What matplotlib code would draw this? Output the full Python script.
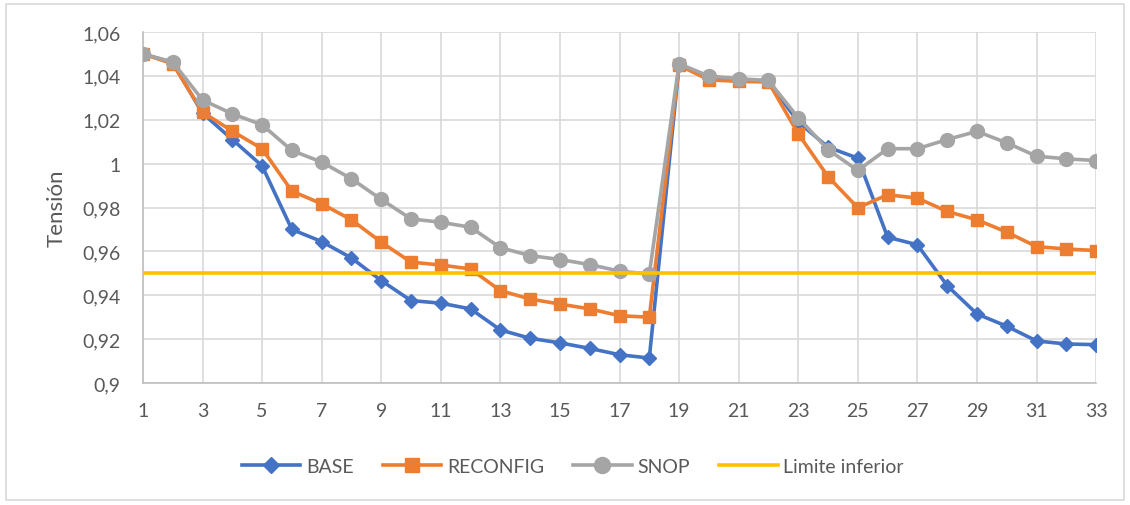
import matplotlib
matplotlib.use("Agg")
import matplotlib.pyplot as plt
from matplotlib.patches import Rectangle

nodes = list(range(1, 34))
base = [1.050, 1.046, 1.023, 1.011, 0.999, 0.970, 0.9645, 0.957, 0.9467, 0.9376,
        0.9364, 0.9338, 0.9242, 0.9204, 0.9183, 0.9158, 0.9129, 0.9114, 1.045,
        1.039, 1.038, 1.0375, 1.019, 1.0075, 1.0025, 0.9665, 0.963, 0.9444,
        0.9315, 0.9259, 0.9192, 0.9178, 0.9175]
reconfig = [1.050, 1.0455, 1.0235, 1.0148, 1.0068, 0.9875, 0.9817, 0.9744, 0.9642, 0.9551,
            0.9538, 0.952, 0.9421, 0.9383, 0.936, 0.9338, 0.9307, 0.930, 1.0448,
            1.0382, 1.0375, 1.0372, 1.0136, 0.9941, 0.9799, 0.9858, 0.9843, 0.9782,
            0.9744, 0.9688, 0.9622, 0.9611, 0.9604]
snop = [1.050, 1.0463, 1.029, 1.0227, 1.0177, 1.006, 1.0007, 0.9931, 0.9837, 0.9748,
        0.9733, 0.971, 0.9617, 0.9581, 0.9563, 0.954, 0.951, 0.9497, 1.0455,
        1.0399, 1.0387, 1.0379, 1.0209, 1.0064, 0.9969, 1.0068, 1.0068, 1.011,
        1.0147, 1.0095, 1.0034, 1.0022, 1.0014]
limite = [0.95] * 33

x_ticks = list(range(1, 34, 2))
y_ticks = [0.9, 0.92, 0.94, 0.96, 0.98, 1.0, 1.02, 1.04, 1.06]
y_labels = ["0,9", "0,92", "0,94", "0,96", "0,98", "1", "1,02", "1,04", "1,06"]

plt.rcParams['font.family'] = ['Lato', 'DejaVu Sans']

fig = plt.figure(figsize=(11.3, 5.06), dpi=100)
ax = fig.add_axes([0.1265, 0.241, 0.8435, 0.6938])

ax.plot(nodes, base, color='#4472C4', lw=2.6, marker='D', ms=7.5, label='BASE', zorder=3)
ax.plot(nodes, reconfig, color='#ED7D31', lw=2.6, marker='s', ms=9, label='RECONFIG', zorder=4)
ax.plot(nodes, snop, color='#A5A5A5', lw=2.6, marker='o', ms=10, label='SNOP', zorder=5)
ax.plot(nodes, limite, color='#FFC000', lw=2.6, label='Limite inferior', zorder=6)

ax.set_xlim(1, 33)
ax.set_ylim(0.9, 1.06)
ax.set_xticks(x_ticks)
ax.set_xticklabels([str(v) for v in x_ticks])
ax.set_yticks(y_ticks)
ax.set_yticklabels(y_labels)
ax.tick_params(length=0, labelsize=14, colors='#595959')
ax.tick_params(axis='x', pad=14)
ax.tick_params(axis='y', pad=16)
ax.grid(True, color='#D9D9D9', lw=1.2)
ax.set_axisbelow(True)
for s in ['top', 'right']:
    ax.spines[s].set_visible(False)
for s in ['left', 'bottom']:
    ax.spines[s].set_color('#BFBFBF')
    ax.spines[s].set_linewidth(1.2)

ax.set_ylabel('Tensión', fontsize=16, color='#595959')
ax.yaxis.set_label_coords(-0.08, 0.5)

leg = fig.legend(loc='center', bbox_to_anchor=(0.507, 0.077), ncol=4, frameon=False,
                 fontsize=14, handlelength=3.0, columnspacing=1.5, handletextpad=0.3,
                 markerscale=1.15)
for t in leg.get_texts():
    t.set_color('#595959')

fig.patches.append(Rectangle((0.005, 0.01), 0.99, 0.98, transform=fig.transFigure,
                             fill=False, edgecolor='#D9D9D9', lw=1.2))

fig.savefig('out.png', dpi=100)
